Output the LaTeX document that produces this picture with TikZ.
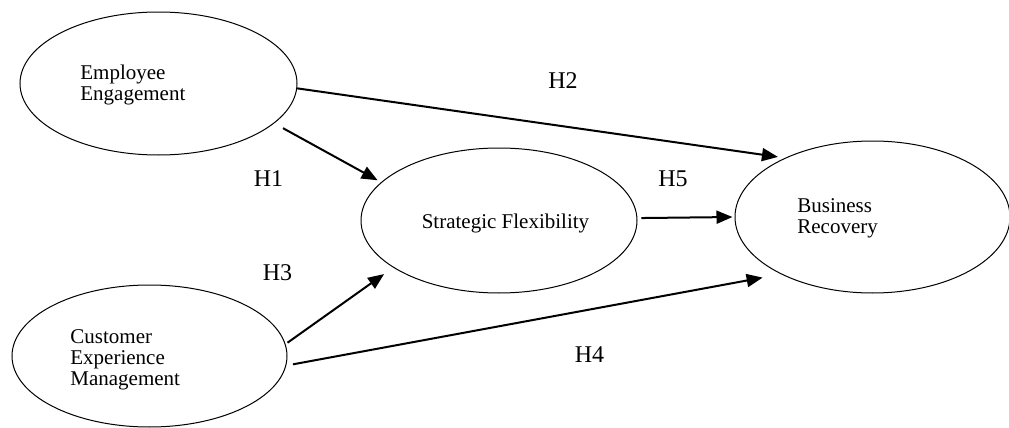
\documentclass[tikz,border=0pt]{standalone}
\usepackage{fontspec}
\setmainfont{Liberation Serif}
\usepackage{tikz}
\usetikzlibrary{shapes.geometric,arrows.meta}

\begin{document}
\begin{tikzpicture}[x=0.5pt,y=-0.5pt,
                    construct/.style={draw,ellipse,inner sep=0pt,line width=0.5pt},
                    ctext/.style={inner sep=0pt,align=left,font=\fontsize{10.5pt}{10.5pt}\selectfont},
                    hyp/.style={-{Triangle[length=8pt,width=6.5pt]},line width=1pt},
                    hlabel/.style={inner sep=0pt,anchor=base,font=\fontsize{12pt}{14pt}\selectfont}]
                    \useasboundingbox (0,0) rectangle (1009,428);

                    % 放置四个变量(椭圆)
                    \node[construct,minimum width=138.5pt,minimum height=71.5pt] (ee) at (158.5,83.5) {};
                    \node[construct,minimum width=138pt,minimum height=72.5pt] (sf) at (499,220.5) {};
                    \node[construct,minimum width=137.5pt,minimum height=76pt] (br) at (872.5,217) {};
                    \node[construct,minimum width=137.5pt,minimum height=71pt] (cm) at (149.5,356) {};

                    % 椭圆里的文字
                    \node[ctext,anchor=north west] (ee-text) at (80,64.7) {Employee\\Engagement};
                    \node[ctext,anchor=center] (sf-text) at (505.5,223) {Strategic Flexibility};
                    \node[ctext,anchor=north west] (br-text) at (797,198) {Business\\Recovery};
                    \node[ctext,anchor=north west] (cm-text) at (70,329.5) {Customer\\Experience\\Management};

                    % 假设路径 H1--H5
                    \draw[hyp,shorten <=5pt,shorten >=2pt] (ee.-19.4) -- (sf.162.5);
                    \draw[hyp,shorten >=3.5pt] (ee.-2.7) -- (br.146.7);
                    \draw[hyp,shorten <=1.2pt,shorten >=5.6pt] (cm.5.4) -- (sf.204.7);
                    \draw[hyp,shorten <=3.4pt,shorten >=9.3pt] (cm.-4.8) -- (br.212.2);
                    \draw[hyp,shorten <=2pt,shorten >=1pt] (sf.1.4) -- (br.180);

                    % 路径编号
                    \node[hlabel] (h1) at (268.5,186) {H1};
                    \node[hlabel] (h2) at (563,89) {H2};
                    \node[hlabel] (h3) at (277.5,280) {H3};
                    \node[hlabel] (h4) at (589.5,362) {H4};
                    \node[hlabel] (h5) at (673,186) {H5};
                \end{tikzpicture}
\end{document}
